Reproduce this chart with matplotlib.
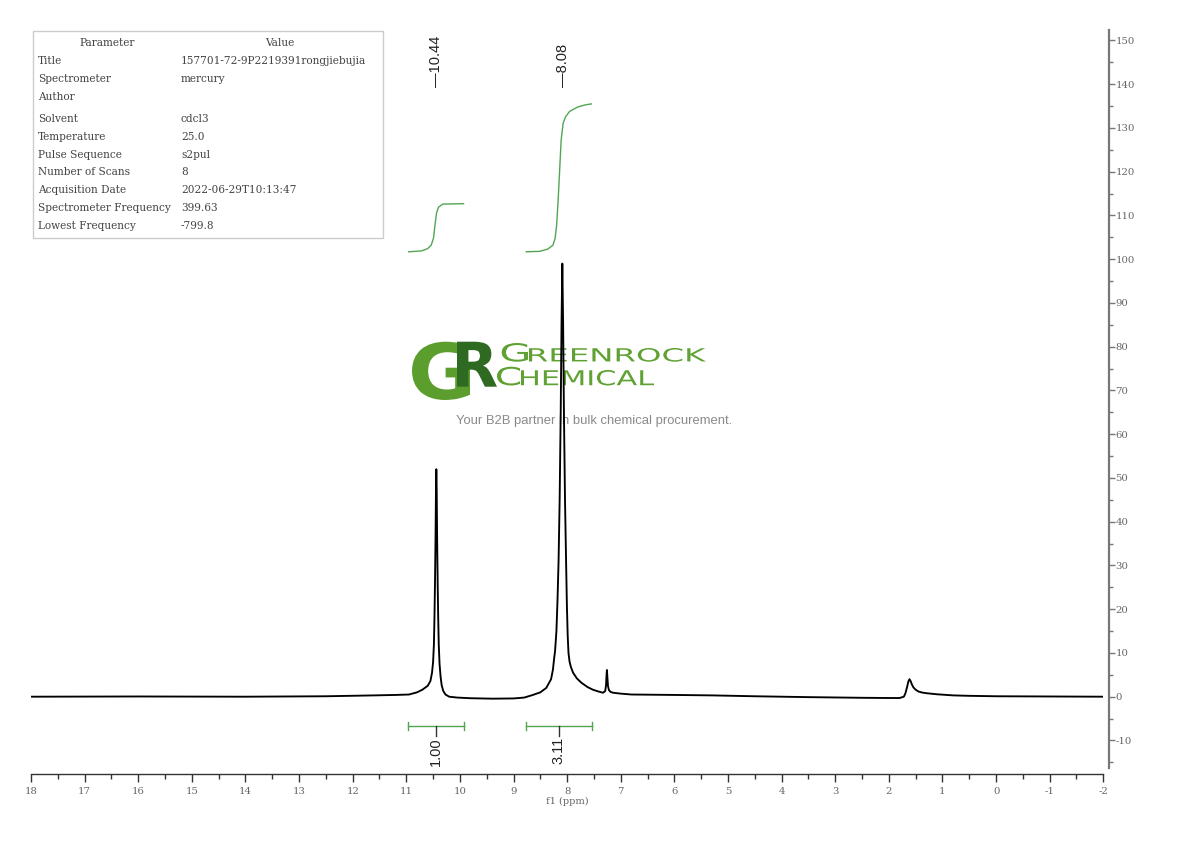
import matplotlib
matplotlib.use('Agg')
import matplotlib.pyplot as plt
from matplotlib.textpath import TextPath
from matplotlib.patches import PathPatch, Rectangle
from matplotlib.font_manager import FontProperties
from matplotlib.transforms import Affine2D
from matplotlib.ticker import MultipleLocator

plt.rcParams['axes.unicode_minus'] = False

# spectrum (ppm, intensity)
ppm = [18.0, 16.0, 14.0, 12.5, 11.6, 11.2, 10.95, 10.8, 10.7, 10.6, 10.55,
       10.52, 10.5, 10.485, 10.475, 10.465, 10.455, 10.447, 10.44, 10.433,
       10.425, 10.415, 10.405, 10.395, 10.38, 10.36, 10.34, 10.31, 10.27,
       10.2, 10.05, 9.8, 9.4, 9.0, 8.8, 8.64, 8.5, 8.39, 8.3, 8.265, 8.246,
       8.225, 8.2, 8.18, 8.16, 8.14, 8.12, 8.105, 8.09, 8.075, 8.06, 8.04,
       8.02, 8.005, 7.99, 7.975, 7.955, 7.93, 7.89, 7.82, 7.735, 7.62, 7.52,
       7.42, 7.33, 7.29, 7.275, 7.265, 7.258, 7.25, 7.238, 7.22, 7.19, 7.14,
       7.0, 6.8, 6.0, 5.3, 4.5, 3.5, 2.5, 2.0, 1.8, 1.72, 1.69, 1.66, 1.635,
       1.615, 1.595, 1.57, 1.54, 1.5, 1.45, 1.38, 1.3, 1.1, 0.8, 0.5, 0.0,
       -1.0, -2.0]
intensity = [0.0, 0.05, 0.0, 0.1, 0.3, 0.4, 0.5, 1.0, 1.6, 2.5, 3.6,
             5.5, 8.0, 12.0, 18.0, 26.0, 36.0, 47.0, 52.0, 47.0,
             36.0, 26.0, 18.0, 12.0, 7.5, 4.5, 2.6, 1.3, 0.5,
             0.0, -0.2, -0.35, -0.45, -0.4, -0.2, 0.4, 1.0, 2.0, 4.0, 6.2, 8.4,
             10.5, 15.0, 22.0, 31.0, 45.0, 65.0, 85.0, 99.0, 85.0, 65.0, 45.0,
             31.0, 21.0, 14.0, 10.0, 8.0, 6.8, 5.5, 4.2, 3.2, 2.2, 1.6,
             1.2, 0.9, 1.3, 2.6, 5.0, 6.1, 4.5, 2.4, 1.5, 1.1, 0.9,
             0.7, 0.5, 0.4, 0.3, 0.1, -0.1, -0.25, -0.3, -0.3, 0.0, 0.8, 2.2, 3.5,
             4.0, 3.6, 2.8, 2.1, 1.6, 1.2, 0.95, 0.8, 0.55, 0.3, 0.2, 0.1,
             0.05, 0.0]

peak_labels = [10.44, 8.08]

# integrals
int_from = [10.96, 8.77]
int_to = [9.93, 7.54]
int_values = [1.00, 3.11]

int1_ppm = [10.954, 10.717, 10.605, 10.536, 10.493, 10.465, 10.437, 10.40, 10.319, 9.933]
int1_y = [101.7, 101.9, 102.4, 103.2, 104.8, 107.8, 110.5, 111.9, 112.6, 112.7]
int2_ppm = [8.762, 8.514, 8.364, 8.265, 8.224, 8.196, 8.168, 8.14, 8.112, 8.075,
            8.028, 7.953, 7.804, 7.655, 7.548]
int2_y = [101.7, 101.8, 102.3, 103.2, 104.8, 107.8, 113.5, 120.3, 127.2, 131.1,
          132.6, 133.8, 134.8, 135.3, 135.5]

# parameter table
params = ['Title', 'Spectrometer', 'Author', 'Solvent', 'Temperature',
          'Pulse Sequence', 'Number of Scans', 'Acquisition Date',
          'Spectrometer Frequency', 'Lowest Frequency']
values = ['157701-72-9P2219391rongjiebujia', 'mercury', '', 'cdcl3', '25.0',
          's2pul', '8', '2022-06-29T10:13:47', '399.63', '-799.8']

W, H = 1190.0, 841.0
SERIF = 'DejaVu Serif'
SANS = 'Liberation Sans'
GREEN = '#52a552'

fig = plt.figure(figsize=(11.9, 8.41), dpi=100)
ax = fig.add_axes([31 / W, 1 - 774 / H, (1103.3 - 31) / W, (774 - 30) / H])

ax.plot(ppm, intensity, color='black', lw=1.35, zorder=3)
ax.plot(int1_ppm, int1_y, color=GREEN, lw=1.0, zorder=3)
ax.plot(int2_ppm, int2_y, color=GREEN, lw=1.0, zorder=3)

ax.set_xlim(18, -2)
ax.set_ylim(-17.67, 152.4)

# axes look
ax.spines['top'].set_visible(False)
ax.spines['left'].set_visible(False)
ax.spines['right'].set_position(('outward', 4.3))
ax.spines['right'].set_bounds(-16.4, 152.4)
ax.spines['right'].set_color('#777777')
ax.spines['right'].set_linewidth(1.6)
ax.spines['bottom'].set_color('#333333')
ax.spines['bottom'].set_linewidth(1.0)

ax.yaxis.tick_right()
ax.xaxis.set_major_locator(MultipleLocator(1))
ax.xaxis.set_minor_locator(MultipleLocator(0.5))
ax.yaxis.set_major_locator(MultipleLocator(10))
ax.yaxis.set_minor_locator(MultipleLocator(5))
ax.tick_params(axis='x', which='major', direction='out', length=6, width=1,
               color='#333333', labelcolor='#666666', labelsize=7.3, pad=3)
ax.tick_params(axis='x', which='minor', direction='out', length=3.5, width=1,
               color='#333333')
ax.tick_params(axis='y', which='major', direction='out', length=4, width=1,
               color='#777777', labelcolor='#666666', labelsize=7.3, pad=0.5)
ax.tick_params(axis='y', which='minor', direction='out', length=3, width=1,
               color='#777777')
for lab in ax.get_xticklabels() + ax.get_yticklabels():
    lab.set_family(SERIF)

fig.text(567 / W, 1 - 801 / H, 'f1 (ppm)', ha='center', va='center',
         fontsize=7, family=SERIF, color='#666666')

# peak labels
for p in peak_labels:
    ax.text(p, 139.3, '\u2014%.2f' % p, rotation=90, ha='center', va='bottom',
            family=SANS, fontsize=10.5, color='#222222')

# integration bars
bar_y = -6.7
for a, b, v in zip(int_from, int_to, int_values):
    m = (a + b) / 2.0
    ax.plot([a, b], [bar_y, bar_y], color=GREEN, lw=1.0)
    ax.plot([a, a], [bar_y - 0.9, bar_y + 0.9], color=GREEN, lw=1.0)
    ax.plot([b, b], [bar_y - 0.9, bar_y + 0.9], color=GREEN, lw=1.0)
    ax.plot([m, m], [bar_y, bar_y - 2.3], color='#333333', lw=1.0)
    ax.text(m, -9.2, '%.2f' % v, rotation=90, ha='center', va='top',
            family=SANS, fontsize=10.5, color='#222222')

# parameter table
fig.add_artist(Rectangle((33 / W, 1 - 238 / H), 350 / W, 207 / H,
                         transform=fig.transFigure, fill=False,
                         ec='#cccccc', lw=1.0))
fig.text(107 / W, 1 - 43 / H, 'Parameter', ha='center', va='center',
         family=SERIF, fontsize=7.6, color='#444444')
fig.text(280 / W, 1 - 43 / H, 'Value', ha='center', va='center',
         family=SERIF, fontsize=7.6, color='#444444')
row_px = [61, 79, 97, 119, 137, 155, 172, 190, 208, 226]
for name, val, ry in zip(params, values, row_px):
    fig.text(38 / W, 1 - ry / H, name, ha='left', va='center',
             family=SERIF, fontsize=7.6, color='#444444')
    fig.text(181 / W, 1 - ry / H, val, ha='left', va='center',
             family=SERIF, fontsize=7.6, color='#444444')


# logo watermark
def word(s, x0, y0, x1, y1, color, weight='normal'):
    tp = TextPath((0, 0), s, size=1,
                  prop=FontProperties(family='DejaVu Sans', weight=weight))
    ext = tp.get_extents()
    tr = (Affine2D().translate(-ext.x0, -ext.y0)
          .scale((x1 - x0) / ext.width / W, (y1 - y0) / ext.height / H)
          .translate(x0 / W, 1 - y1 / H) + fig.transFigure)
    ax.add_artist(PathPatch(tp, transform=tr, fc=color, ec='none',
                            zorder=1, clip_on=False))


word('G', 412, 341.7, 470, 400, '#5c9e2e', weight='bold')
word('R', 457, 341.7, 497, 386.7, '#2f6a22', weight='bold')
word('G', 501.7, 343, 528, 361.7, '#5fa132')
word('REENROCK', 529, 348, 706, 361.7, '#5fa132')
word('C', 497, 366.7, 520, 385.5, '#5fa132')
word('HEMICAL', 521, 370, 654, 385.5, '#5fa132')

ax.text(594.5 / W, 1 - 421 / H, 'Your B2B partner in bulk chemical procurement.',
        transform=fig.transFigure, ha='center', va='center', fontsize=9.4,
        color='#8a8a8a', family=SANS, zorder=1)

fig.savefig('out.png', dpi=100)
